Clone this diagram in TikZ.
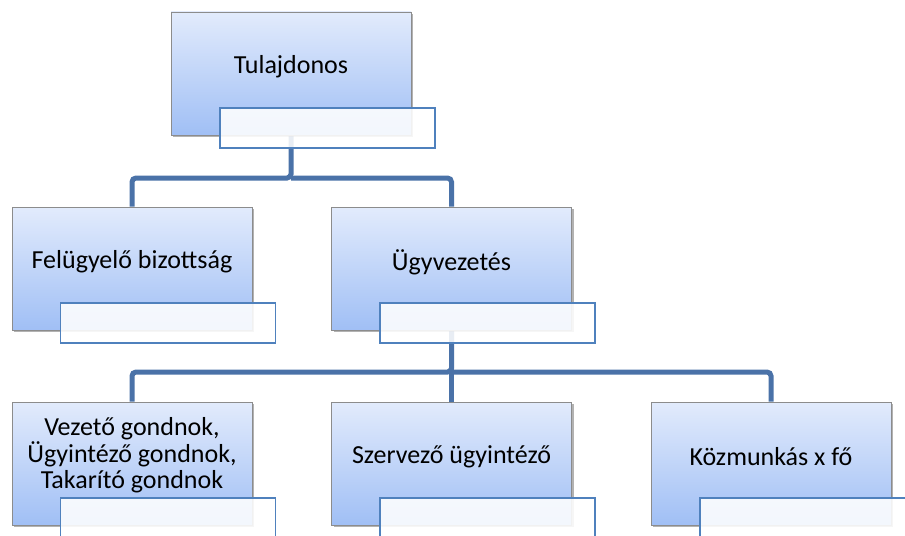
\documentclass[tikz,border=0pt]{standalone}
\usepackage{fontspec}
\setmainfont{Carlito}
\usetikzlibrary{shadows,backgrounds}
\definecolor{connblue}{RGB}{74,114,168}
\definecolor{tagblue}{RGB}{79,129,189}
\definecolor{boxtop}{RGB}{226,235,252}
\definecolor{boxbot}{RGB}{160,191,245}
\tikzset{
  unit/.style={draw=gray!90, line width=0.6pt, top color=boxtop, bottom color=boxbot,
    minimum width=180pt, minimum height=92.25pt, inner sep=0pt,
    drop shadow={shadow xshift=1.5pt, shadow yshift=-1.5pt, fill=black, opacity=0.3}},
  tag/.style={draw=tagblue, line width=1pt, fill=white, fill opacity=0.88,
    minimum width=161.25pt, minimum height=30pt, inner sep=0pt},
  txt/.style={font=\fontsize{19.5}{20}\selectfont, align=center},
  conn/.style={draw=connblue, line width=3.75pt, rounded corners=3pt}
}
\begin{document}
\begin{tikzpicture}[x=0.75pt, y=-0.75pt]
            \clip (0,0) rectangle (905,535);
            \coordinate (bus1) at (0,178);
            \coordinate (bus2) at (0,372);

            \node[unit] (tul) at (291,73.5) {};
            \node[unit] (fel) at (132,268.5) {};
            \node[unit] (ugy) at (451.5,268.5) {};
            \node[unit] (vez) at (132,463.5) {};
            \node[unit] (szer) at (451.5,463.5) {};
            \node[unit] (koz) at (771,463.5) {};

            \node[txt] (tultxt) at ([yshift=5pt]tul.center) {Tulajdonos};
            \node[txt] (feltxt) at ([yshift=5pt]fel.center) {Felügyelő bizottság};
            \node[txt] (ugytxt) at ([yshift=5pt]ugy.center) {Ügyvezetés};
            \node[txt] (veztxt) at ([yshift=6pt]vez.center) {Vezető gondnok,\\Ügyintéző gondnok,\\Takarító gondnok};
            \node[txt] (szertxt) at ([yshift=5pt]szer.center) {Szervező ügyintéző};
            \node[txt] (koztxt) at ([yshift=5pt]koz.center) {Közmunkás x fő};

            \node[tag] (tultag) at (327.5,128) {};
            \node[tag] (feltag) at (168,323) {};
            \node[tag] (ugytag) at (487.5,323) {};
            \node[tag] (veztag) at (168,518) {};
            \node[tag] (szertag) at (487.5,518) {};
            \node[tag] (koztag) at (807.5,518) {};

            % connectors behind the boxes
            \begin{scope}[on background layer]
                \draw[conn] (tul.center) -- (tul.center |- bus1) -| (fel.north);
                \draw[conn] (tul.center |- bus1) -| (ugy.north);
                \draw[conn] (ugy.center) -- (ugy.center |- bus2) -| (vez.north);
                \draw[conn] (ugy.center |- bus2) -| (szer.north);
                \draw[conn] (ugy.center |- bus2) -| (koz.north);
            \end{scope}
        \end{tikzpicture}
\end{document}
